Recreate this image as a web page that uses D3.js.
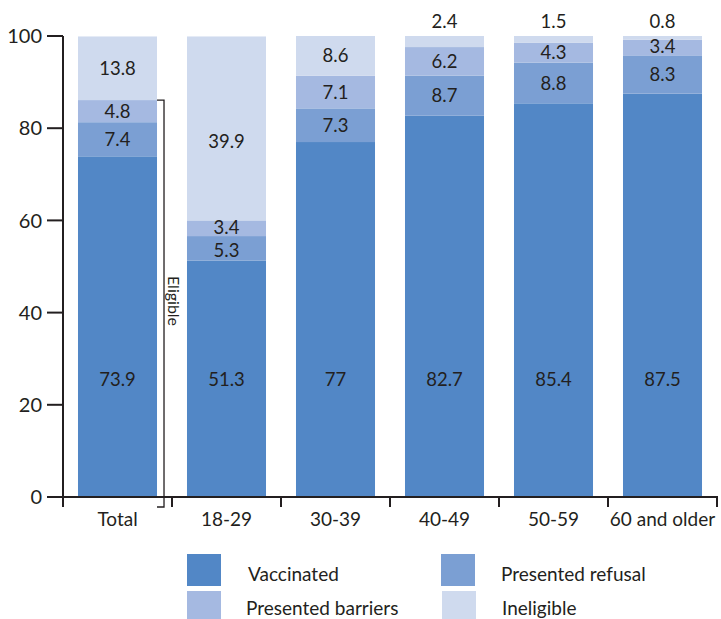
<!DOCTYPE html>
<html>
<head>
<meta charset="utf-8">
<script src="https://cdn.jsdelivr.net/npm/d3@7"></script>
<style>
  html, body { margin: 0; padding: 0; background: #fff; }
  svg text { font-family: Lato, "Open Sans", sans-serif; fill: #231f20; }
</style>
</head>
<body>
<svg id="chart" width="721" height="619"></svg>
<script>
// Age groups along the x axis
const categories = ["Total", "18-29", "30-39", "40-49", "50-59", "60 and older"];
// Stacked shares (%), bottom to top
const vaccinated = [73.9, 51.3, 77, 82.7, 85.4, 87.5];
const refusal    = [7.4, 5.3, 7.3, 8.7, 8.8, 8.3];
const barriers   = [4.8, 3.4, 7.1, 6.2, 4.3, 3.4];
const ineligible = [13.8, 39.9, 8.6, 2.4, 1.5, 0.8];
const seriesNames = ["Vaccinated", "Presented refusal", "Presented barriers", "Ineligible"];
const yTicks = [0, 20, 40, 60, 80, 100];

const colors = ["#5287c6", "#7b9fd3", "#a5b9e1", "#cfdaee"];
const seriesValues = [vaccinated, refusal, barriers, ineligible];

const svg = d3.select("#chart");
const plotLeft = 63, plotRight = 717, plotTop = 36, plotBottom = 497;

const x = d3.scaleBand().domain(categories).range([plotLeft, plotRight])
  .paddingInner(0.275).paddingOuter(0.1375);
const y = d3.scaleLinear().domain([0, 100]).range([plotBottom, plotTop]);

// Build stacked rows
const rows = categories.map((c, i) => {
  const r = { cat: c };
  seriesNames.forEach((s, k) => r[s] = seriesValues[k][i]);
  return r;
});
const stack = d3.stack().keys(seriesNames)(rows);

const g = svg.append("g");
stack.forEach((layer, k) => {
  g.selectAll(null).data(layer).enter().append("rect")
    .attr("x", d => x(d.data.cat))
    .attr("width", x.bandwidth())
    .attr("y", d => y(d[1]))
    .attr("height", d => y(d[0]) - y(d[1]))
    .attr("fill", colors[k]);
});

// Value labels
const labelSize = 18.5;
stack.forEach((layer, k) => {
  layer.forEach(d => {
    const v = d[1] - d[0];
    const cx = x(d.data.cat) + x.bandwidth() / 2;
    let cy;
    if (k === 0) {
      // vaccinated labels share one level
      cy = y(25.6);
    } else if (k === 3 && v < 4) {
      // thin top slices get their label above the bar
      cy = y(100) - 15;
    } else if (k === 3 && v > 30) {
      // tall ineligible slice: label sits in its lower part
      cy = y(d[0] + v * 0.43);
    } else {
      cy = y((d[0] + d[1]) / 2);
      // keep stacked labels in thin slices apart
      if (k === 1 && v < 6) cy += 2;
      if (k === 2 && v < 4) cy -= 1;
    }
    g.append("text")
      .attr("x", cx).attr("y", cy)
      .attr("dy", "0.36em")
      .attr("text-anchor", "middle")
      .attr("font-size", labelSize)
      .text(String(Math.round(v * 10) / 10));
  });
});

// Axes
const axisColor = "#231f20";
const yAxis = svg.append("g");
yAxis.append("line").attr("x1", plotLeft).attr("x2", plotLeft)
  .attr("y1", y(100)).attr("y2", plotBottom + 10)
  .attr("stroke", axisColor).attr("stroke-width", 2);
yTicks.forEach(t => {
  yAxis.append("line").attr("x1", plotLeft - 16).attr("x2", plotLeft)
    .attr("y1", y(t)).attr("y2", y(t))
    .attr("stroke", axisColor).attr("stroke-width", 2);
  yAxis.append("text").attr("x", plotLeft - 21).attr("y", y(t))
    .attr("dy", "0.36em").attr("text-anchor", "end")
    .attr("font-size", 20).text(t);
});

const xAxis = svg.append("g");
xAxis.append("line").attr("x1", plotLeft).attr("x2", plotRight + 1)
  .attr("y1", plotBottom).attr("y2", plotBottom)
  .attr("stroke", axisColor).attr("stroke-width", 2);
const step = x.step();
categories.forEach((c, i) => {
  const bx = plotLeft + step * (i + 1);
  xAxis.append("line").attr("x1", bx).attr("x2", bx)
    .attr("y1", plotBottom).attr("y2", plotBottom + 10)
    .attr("stroke", axisColor).attr("stroke-width", 2);
  xAxis.append("text")
    .attr("x", x(c) + x.bandwidth() / 2).attr("y", plotBottom + 29)
    .attr("text-anchor", "middle").attr("font-size", 19).text(c);
});

// Eligible bracket on the Total bar
const eligTop = y(vaccinated[0] + refusal[0] + barriers[0]);
const bx0 = x("Total") + x.bandwidth();
const bxLine = bx0 + 7;
svg.append("path")
  .attr("d", `M${bx0},${eligTop} H${bxLine} V${plotBottom + 10} H${bx0}`)
  .attr("fill", "none").attr("stroke", "#231f20").attr("stroke-width", 1.3);
svg.append("text")
  .attr("transform", `translate(${bxLine + 4},${301}) rotate(90)`)
  .attr("text-anchor", "middle").attr("font-size", 16)
  .text("Eligible");

// Legend
const legend = svg.append("g");
const legendItems = [
  { name: seriesNames[0], sx: 187, sy: 554, tx: 248, ty: 581 },
  { name: seriesNames[1], sx: 441, sy: 554, tx: 501, ty: 581 },
  { name: seriesNames[2], sx: 187, sy: 591, tx: 246, ty: 615 },
  { name: seriesNames[3], sx: 442, sy: 591, tx: 502, ty: 615 }
];
legendItems.forEach((it, k) => {
  legend.append("rect").attr("x", it.sx).attr("y", it.sy)
    .attr("width", 34).attr("height", 32).attr("fill", colors[k]);
  legend.append("text").attr("x", it.tx).attr("y", it.ty)
    .attr("font-size", 19).text(it.name);
});
</script>
</body>
</html>
